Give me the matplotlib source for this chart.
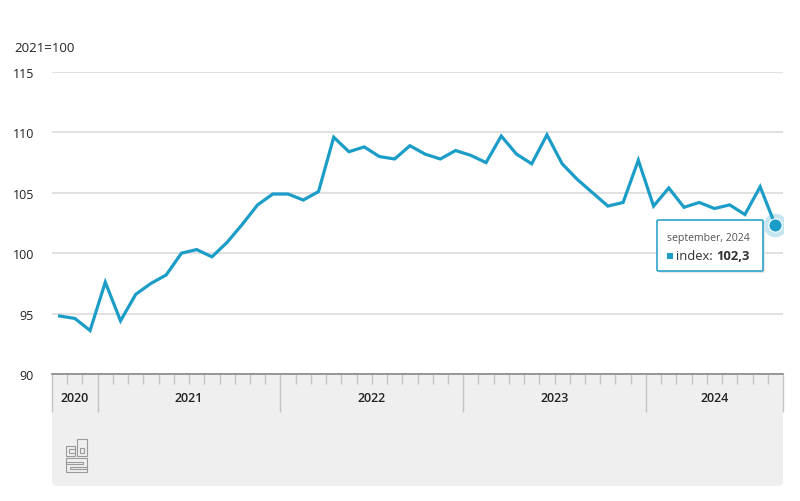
import matplotlib.pyplot as plt
import numpy as np
from matplotlib.patches import FancyBboxPatch, Rectangle

plt.rcParams['font.family'] = ['Open Sans', 'DejaVu Sans']

# monthly index, oct 2020 - sep 2024 (2021=100)
years = ['2020', '2021', '2022', '2023', '2024']
months_per_year = [3, 12, 12, 12, 9]
index = [
    94.8, 94.6, 93.6,
    97.6, 94.4, 96.6, 97.5, 98.2, 100.0, 100.3, 99.7, 100.9, 102.4, 104.0, 104.9,
    104.9, 104.4, 105.1, 109.6, 108.4, 108.8, 108.0, 107.8, 108.9, 108.2, 107.8, 108.5,
    108.1, 107.5, 109.7, 108.2, 107.4, 109.8, 107.4, 106.1, 105.0, 103.9, 104.2, 107.7,
    103.9, 105.4, 103.8, 104.2, 103.7, 104.0, 103.2, 105.5, 102.3,
]
tooltip_month = 'september, 2024'
tooltip_value = '102,3'
base_label = '2021=100'
yticks = [90, 95, 100, 105, 110, 115]

W, H = 800, 502
BLUE = '#1b9dc8'


def fx(px):
    return px / W


def fy(py):
    return 1 - py / H


fig = plt.figure(figsize=(8, 5.02), dpi=100)

# grey panel under the axis
panel = FancyBboxPatch((fx(52), fy(487)), fx(783) - fx(52), fy(375) - fy(487),
                       boxstyle='round,pad=0,rounding_size=0.008',
                       transform=fig.transFigure, facecolor='#efefef',
                       edgecolor='none', zorder=-1)
fig.patches.append(panel)

ax = fig.add_axes([fx(52), fy(375), fx(783) - fx(52), fy(73) - fy(375)])
ax.patch.set_alpha(0)

x = np.arange(len(index)) + 0.5
ax.plot(x, index, color=BLUE, lw=2.3, solid_joinstyle='miter', zorder=3)
ax.plot(x[-1], index[-1], 'o', ms=17, color=BLUE, alpha=0.25, mec='none', zorder=4)
ax.plot(x[-1], index[-1], 'o', ms=9.5, color=BLUE, mec='white', mew=0.8, zorder=5)

ax.set_xlim(0, len(index))
ax.set_ylim(90, 115)
ax.set_yticks(yticks)
ax.set_yticklabels([str(v) for v in yticks], fontsize=9, color='#222222')
ax.grid(axis='y', color='#dcdcdc', lw=1.2)
ax.set_axisbelow(True)
ax.tick_params(axis='y', length=0, pad=13)

bounds = np.concatenate([[0], np.cumsum(months_per_year)])
ax.set_xticks(bounds)
ax.set_xticks(np.arange(len(index) + 1), minor=True)
ax.set_xticklabels([])
ax.tick_params(axis='x', which='major', length=27, width=1, color='#c4c4c4', direction='out')
ax.tick_params(axis='x', which='minor', length=7, width=1, color='#c4c4c4', direction='out')

for s in ['top', 'right', 'left']:
    ax.spines[s].set_visible(False)
ax.spines['bottom'].set_color('#888888')
ax.spines['bottom'].set_linewidth(1.2)

for i, yr in enumerate(years):
    mid = (bounds[i] + bounds[i + 1]) / 2
    ax.text(mid, -0.078, yr, transform=ax.get_xaxis_transform(), ha='center',
            va='center', fontsize=9, fontweight='semibold', color='#222222')

fig.text(fx(14), fy(48), base_label, fontsize=9.5, color='#222222', va='center')

# tooltip
shadow = FancyBboxPatch((fx(659), fy(274)), fx(763) - fx(657), fy(221) - fy(272),
                        boxstyle='round,pad=0,rounding_size=0.002',
                        transform=fig.transFigure, facecolor='#e6e6e6',
                        edgecolor='none', zorder=5)
tip = FancyBboxPatch((fx(657), fy(272)), fx(763) - fx(657), fy(221) - fy(272),
                     boxstyle='round,pad=0,rounding_size=0.002',
                     transform=fig.transFigure, facecolor='white',
                     edgecolor=BLUE, lw=1.1, zorder=6)
fig.patches.extend([shadow, tip])
fig.text(fx(667), fy(238), tooltip_month, fontsize=7.6, color='#555555',
         va='center', zorder=7)
fig.patches.append(Rectangle((fx(667), fy(260)), fx(6), fy(0) - fy(6),
                             transform=fig.transFigure, facecolor=BLUE,
                             edgecolor='none', zorder=7))
t1 = fig.text(fx(676), fy(256), 'index: ', fontsize=9.4, color='#333333',
              va='center', zorder=7)
fig.canvas.draw()
bb = t1.get_window_extent()
fig.text(bb.x1 / W, fy(256), tooltip_value, fontsize=9.4, fontweight='bold',
         color='#333333', va='center', zorder=7)

# simple cbs logo
logo_col = '#9a9a9a'
for (lx, ly, lw_, lh) in [(66, 447, 9, 10), (77, 440, 10, 17), (66, 459, 21, 14)]:
    fig.patches.append(Rectangle((fx(lx), fy(ly + lh)), fx(lw_), fy(0) - fy(lh),
                                 transform=fig.transFigure, facecolor='none',
                                 edgecolor=logo_col, lw=0.8, zorder=2))
for (lx, ly, lw_, lh) in [(69, 450, 6, 4), (80, 449, 4, 5), (66, 463, 17, 2), (70, 468, 17, 2)]:
    fig.patches.append(Rectangle((fx(lx), fy(ly + lh)), fx(lw_), fy(0) - fy(lh),
                                 transform=fig.transFigure, facecolor='none',
                                 edgecolor=logo_col, lw=0.8, zorder=2))

fig.savefig('out.png', dpi=100)
